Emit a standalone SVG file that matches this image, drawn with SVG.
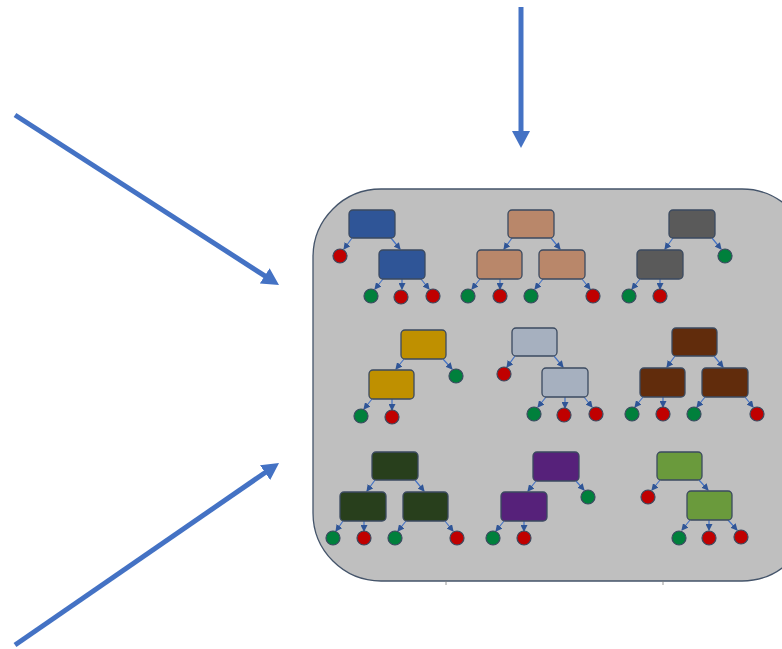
<svg xmlns="http://www.w3.org/2000/svg" width="782" height="649" viewBox="0 0 782 649">
<style>
.panel{fill:#bfbfbf;stroke:#44546a;stroke-width:1.3}
.box{stroke:#3b4a60;stroke-width:1.3}
.leaf{stroke:#3b4a60;stroke-width:1.2}
.g{fill:#00803c}
.r{fill:#c00000}
.sa{stroke:#4472c4;stroke-width:1.2;fill:none;marker-end:url(#sh)}
.ba{stroke:#4472c4;stroke-width:5;fill:none;marker-end:url(#bh)}
.tick{stroke:#7f7f7f;stroke-width:0.8}
</style>
<defs>
<marker id="sh" markerUnits="userSpaceOnUse" viewBox="0 0 7 7" markerWidth="7" markerHeight="7" refX="6" refY="3.5" orient="auto"><path d="M0,0 L7,3.5 L0,7 z" fill="#2f5597"/></marker>
<marker id="bh" markerUnits="userSpaceOnUse" viewBox="0 0 17 18" markerWidth="17" markerHeight="18" refX="2" refY="9" orient="auto"><path d="M0,0 L17,9 L0,18 z" fill="#4472c4"/></marker>
</defs>
<rect width="782" height="649" fill="#ffffff"/>
<g id="panel">
<rect class="panel" x="313" y="189" width="497" height="392" rx="68" ry="68"/>
<line class="tick" x1="446" y1="581" x2="446" y2="585"/>
<line class="tick" x1="663" y1="581" x2="663" y2="585"/>
</g>
<g id="big-arrows">
<line class="ba" x1="521" y1="7" x2="521" y2="133"/>
<line class="ba" x1="15" y1="115" x2="266.4" y2="276.9"/>
<line class="ba" x1="15" y1="645" x2="266.7" y2="471.5"/>
</g>
<g id="connectors">
<line class="sa" x1="352" y1="238" x2="344" y2="249"/>
<line class="sa" x1="391" y1="238" x2="400" y2="249"/>
<line class="sa" x1="383" y1="279" x2="375" y2="289"/>
<line class="sa" x1="402" y1="279" x2="402" y2="289"/>
<line class="sa" x1="421" y1="279" x2="429" y2="289"/>
<line class="sa" x1="512" y1="238" x2="504" y2="249"/>
<line class="sa" x1="551" y1="238" x2="560" y2="249"/>
<line class="sa" x1="480" y1="279" x2="472" y2="289"/>
<line class="sa" x1="500" y1="279" x2="500" y2="289"/>
<line class="sa" x1="543" y1="279" x2="535" y2="289"/>
<line class="sa" x1="582" y1="279" x2="590" y2="289"/>
<line class="sa" x1="673" y1="238" x2="665" y2="249"/>
<line class="sa" x1="712" y1="238" x2="721" y2="249"/>
<line class="sa" x1="640" y1="279" x2="632" y2="289"/>
<line class="sa" x1="660" y1="279" x2="660" y2="289"/>
<line class="sa" x1="404" y1="359" x2="396" y2="369"/>
<line class="sa" x1="443" y1="359" x2="452" y2="369"/>
<line class="sa" x1="372" y1="399" x2="364" y2="409"/>
<line class="sa" x1="392" y1="399" x2="392" y2="410"/>
<line class="sa" x1="515" y1="356" x2="507" y2="367"/>
<line class="sa" x1="554" y1="356" x2="563" y2="367"/>
<line class="sa" x1="546" y1="397" x2="538" y2="407"/>
<line class="sa" x1="565" y1="397" x2="565" y2="408"/>
<line class="sa" x1="584" y1="397" x2="592" y2="407"/>
<line class="sa" x1="675" y1="356" x2="667" y2="367"/>
<line class="sa" x1="714" y1="356" x2="723" y2="367"/>
<line class="sa" x1="643" y1="397" x2="635" y2="407"/>
<line class="sa" x1="663" y1="397" x2="663" y2="407"/>
<line class="sa" x1="705" y1="397" x2="697" y2="407"/>
<line class="sa" x1="745" y1="397" x2="753" y2="407"/>
<line class="sa" x1="375" y1="480" x2="367" y2="491"/>
<line class="sa" x1="415" y1="480" x2="424" y2="491"/>
<line class="sa" x1="343" y1="521" x2="336" y2="531"/>
<line class="sa" x1="364" y1="521" x2="364" y2="531"/>
<line class="sa" x1="406" y1="521" x2="398" y2="531"/>
<line class="sa" x1="445" y1="521" x2="453" y2="531"/>
<line class="sa" x1="536" y1="481" x2="528" y2="491"/>
<line class="sa" x1="576" y1="481" x2="584" y2="490"/>
<line class="sa" x1="504" y1="521" x2="496" y2="531"/>
<line class="sa" x1="524" y1="521" x2="524" y2="531"/>
<line class="sa" x1="660" y1="480" x2="652" y2="490"/>
<line class="sa" x1="699" y1="480" x2="708" y2="490"/>
<line class="sa" x1="690" y1="520" x2="682" y2="530"/>
<line class="sa" x1="709" y1="520" x2="709" y2="530"/>
<line class="sa" x1="728" y1="520" x2="737" y2="530"/>
</g>
<g id="tree1" fill="#2f5597">
<rect class="box" x="349" y="210" width="46" height="28" rx="4"/>
<rect class="box" x="379" y="250" width="46" height="29" rx="4"/>
<circle class="leaf r" cx="340" cy="256" r="7"/>
<circle class="leaf g" cx="371" cy="296" r="7"/>
<circle class="leaf r" cx="401" cy="297" r="7"/>
<circle class="leaf r" cx="433" cy="296" r="7"/>
</g>
<g id="tree2" fill="#b9876a">
<rect class="box" x="508" y="210" width="46" height="28" rx="4"/>
<rect class="box" x="477" y="250" width="45" height="29" rx="4"/>
<rect class="box" x="539" y="250" width="46" height="29" rx="4"/>
<circle class="leaf g" cx="468" cy="296" r="7"/>
<circle class="leaf r" cx="500" cy="296" r="7"/>
<circle class="leaf g" cx="531" cy="296" r="7"/>
<circle class="leaf r" cx="593" cy="296" r="7"/>
</g>
<g id="tree3" fill="#5a5a5a">
<rect class="box" x="669" y="210" width="46" height="28" rx="4"/>
<rect class="box" x="637" y="250" width="46" height="29" rx="4"/>
<circle class="leaf g" cx="725" cy="256" r="7"/>
<circle class="leaf g" cx="629" cy="296" r="7"/>
<circle class="leaf r" cx="660" cy="296" r="7"/>
</g>
<g id="tree4" fill="#bf9000">
<rect class="box" x="401" y="330" width="45" height="29" rx="4"/>
<rect class="box" x="369" y="370" width="45" height="29" rx="4"/>
<circle class="leaf g" cx="456" cy="376" r="7"/>
<circle class="leaf g" cx="361" cy="416" r="7"/>
<circle class="leaf r" cx="392" cy="417" r="7"/>
</g>
<g id="tree5" fill="#a6b0bf">
<rect class="box" x="512" y="328" width="45" height="28" rx="4"/>
<rect class="box" x="542" y="368" width="46" height="29" rx="4"/>
<circle class="leaf r" cx="504" cy="374" r="7"/>
<circle class="leaf g" cx="534" cy="414" r="7"/>
<circle class="leaf r" cx="564" cy="415" r="7"/>
<circle class="leaf r" cx="596" cy="414" r="7"/>
</g>
<g id="tree6" fill="#612c0c">
<rect class="box" x="672" y="328" width="45" height="28" rx="4"/>
<rect class="box" x="640" y="368" width="45" height="29" rx="4"/>
<rect class="box" x="702" y="368" width="46" height="29" rx="4"/>
<circle class="leaf g" cx="632" cy="414" r="7"/>
<circle class="leaf r" cx="663" cy="414" r="7"/>
<circle class="leaf g" cx="694" cy="414" r="7"/>
<circle class="leaf r" cx="757" cy="414" r="7"/>
</g>
<g id="tree7" fill="#283f1c">
<rect class="box" x="372" y="452" width="46" height="28" rx="4"/>
<rect class="box" x="340" y="492" width="46" height="29" rx="4"/>
<rect class="box" x="403" y="492" width="45" height="29" rx="4"/>
<circle class="leaf g" cx="333" cy="538" r="7"/>
<circle class="leaf r" cx="364" cy="538" r="7"/>
<circle class="leaf g" cx="395" cy="538" r="7"/>
<circle class="leaf r" cx="457" cy="538" r="7"/>
</g>
<g id="tree8" fill="#56217a">
<rect class="box" x="533" y="452" width="46" height="29" rx="4"/>
<rect class="box" x="501" y="492" width="46" height="29" rx="4"/>
<circle class="leaf g" cx="588" cy="497" r="7"/>
<circle class="leaf g" cx="493" cy="538" r="7"/>
<circle class="leaf r" cx="524" cy="538" r="7"/>
</g>
<g id="tree9" fill="#6a9a3c">
<rect class="box" x="657" y="452" width="45" height="28" rx="4"/>
<rect class="box" x="687" y="491" width="45" height="29" rx="4"/>
<circle class="leaf r" cx="648" cy="497" r="7"/>
<circle class="leaf g" cx="679" cy="538" r="7"/>
<circle class="leaf r" cx="709" cy="538" r="7"/>
<circle class="leaf r" cx="741" cy="537" r="7"/>
</g>
</svg>
